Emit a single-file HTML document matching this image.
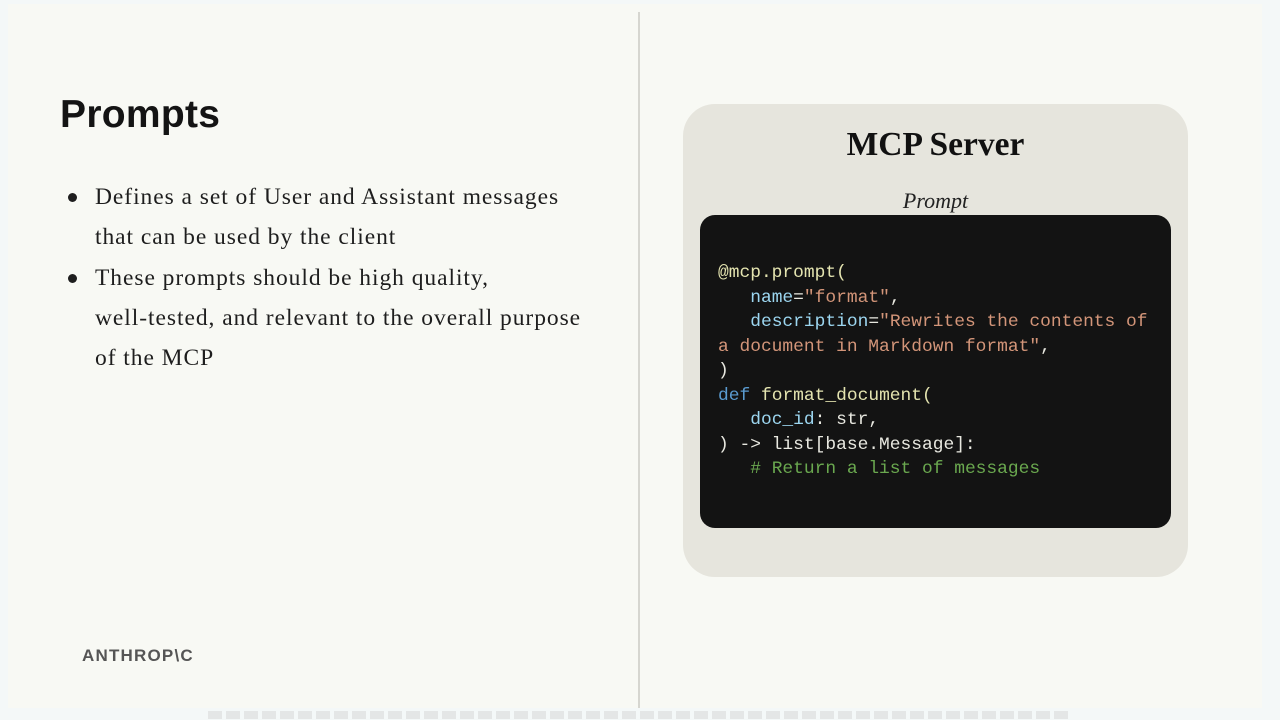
<!DOCTYPE html>
<html><head><meta charset="utf-8"><style>
body{margin:0;width:1280px;height:720px;background:#f4f8f8;position:relative;overflow:hidden;font-family:"Liberation Serif",serif}
.page{position:absolute;left:8px;top:4px;width:1254px;height:704px;background:#f8f9f4}
.div{position:absolute;left:638px;top:12px;width:2px;height:696px;background:#d6d6d0}
h1{position:absolute;left:60px;top:93px;margin:0;font:bold 39px "Liberation Sans",sans-serif;color:#141414;letter-spacing:0.3px}
ul{position:absolute;left:60px;top:177px;margin:0;padding:0;list-style:none;font-size:23.5px;letter-spacing:0.95px;color:#1e1e1e;line-height:40.3px}
li{position:relative;padding-left:35px;width:560px;white-space:nowrap}
li:before{content:"";position:absolute;left:8px;top:16px;width:9px;height:9px;border-radius:50%;background:#1e1e1e}
.logo{position:absolute;left:82px;top:646px;font:bold 17px "Liberation Sans",sans-serif;color:#555;letter-spacing:1.2px}
.box{position:absolute;left:683px;top:104px;width:505px;height:473px;background:#e6e5dd;border-radius:32px}
.t{position:absolute;left:0;width:505px;text-align:center;top:22px;font-weight:bold;font-size:33.5px;color:#111}
.p{position:absolute;left:0;width:505px;text-align:center;top:84px;font-style:italic;font-size:22px;color:#222}
.code{position:absolute;left:17px;top:111px;width:471px;height:313px;background:#131313;border-radius:15px}
pre{position:absolute;left:18px;top:46px;margin:0;font:17.9px/24.5px "Liberation Mono",monospace;color:#e8e8e0}
.y{color:#e4e4b0}.b{color:#9cd6f0}.s{color:#d39579}.k{color:#5a9bd0}.c{color:#6aa84f}
.bar{position:absolute;left:208px;top:711px;width:864px;height:8px;background:repeating-linear-gradient(90deg,#e4e6e6 0 14px,#f4f8f8 14px 18px)}
</style></head><body>
<div class="page"></div>
<div class="div"></div>
<h1>Prompts</h1>
<ul><li>Defines a set of User and Assistant messages<br>that can be used by the client</li>
<li>These prompts should be high quality,<br>well-tested, and relevant to the overall purpose<br>of the MCP</li></ul>
<div class="logo">ANTHROP\C</div>
<div class="box"><div class="t">MCP Server</div><div class="p">Prompt</div>
<div class="code"><pre><span class="y">@mcp.prompt(</span>
   <span class="b">name</span>=<span class="s">"format"</span>,
   <span class="b">description</span>=<span class="s">"Rewrites the contents of
a document in Markdown format"</span>,
)
<span class="k">def</span> <span class="y">format_document(</span>
   <span class="b">doc_id</span>: str,
) -&gt; list[base.Message]:
   <span class="c"># Return a list of messages</span></pre></div></div>
<div class="bar"></div>
</body></html>
